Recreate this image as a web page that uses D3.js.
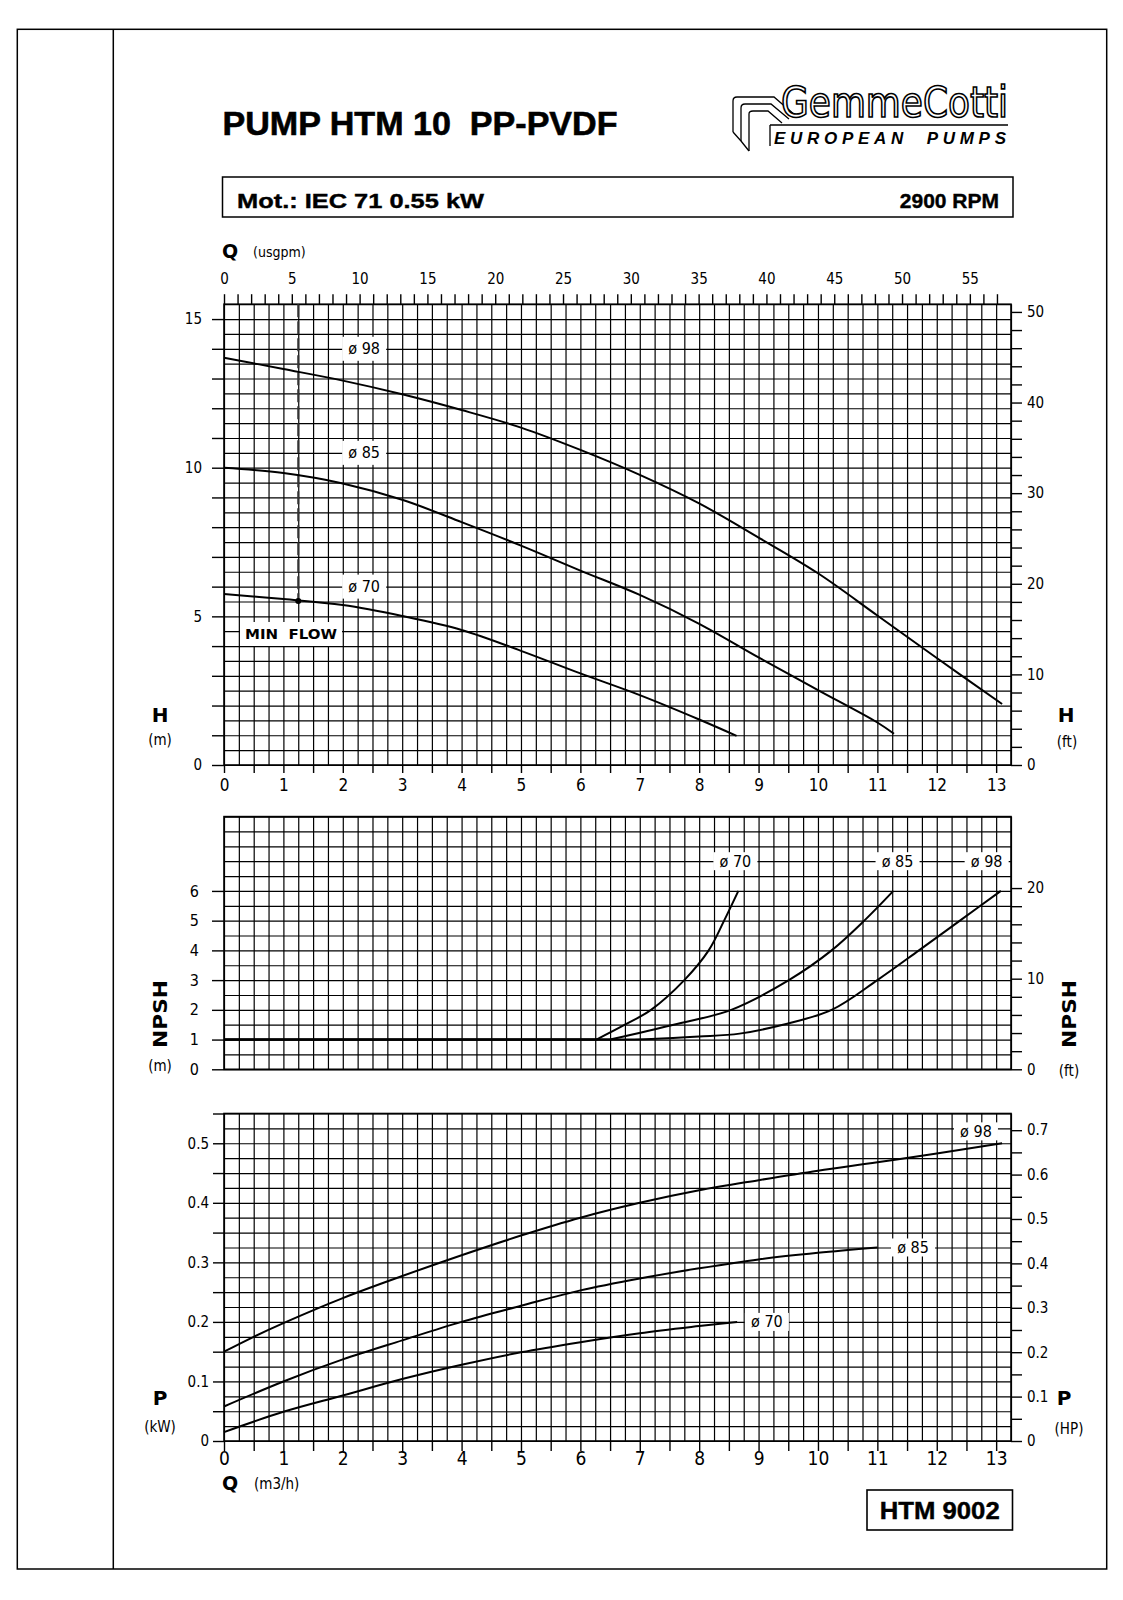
<!DOCTYPE html>
<html><head><meta charset="utf-8">
<script src="https://cdn.jsdelivr.net/npm/d3@7"></script>
<style>
body{margin:0;background:#fff}
svg text{fill:#000;white-space:pre}
.num{font-family:"Liberation Sans Narrow","Arial Narrow","DejaVu Sans Condensed",sans-serif}
.blk{font-family:"DejaVu Sans",sans-serif;font-weight:bold}
.bold{font-family:"Liberation Sans",Arial,sans-serif;font-weight:bold}
</style>
</head><body>
<svg id="c" width="1123" height="1600" xmlns="http://www.w3.org/2000/svg"></svg>
<script>
// ---------------- DATA ----------------
const flowTicks = d3.range(0, 14, 1);            // m3/h labels 0..13
const usgpmTicks = d3.range(0, 58, 1);           // usgpm ticks, labels every 5
const headTicksM = d3.range(0, 16, 1);           // H (m)
const headTicksFt = d3.range(0, 51, 2);          // H (ft)
const npshTicksM = d3.range(0, 7, 1);            // NPSH (m)
const npshTicksFt = d3.range(0, 21, 2);          // NPSH (ft)
const powerTicksKW = d3.range(0, 0.5501, 0.05);  // P (kW)
const powerTicksHP = d3.range(0, 0.7001, 0.05);  // P (HP)
const impellers = ["ø 98", "ø 85", "ø 70"];

// Head curves H (m) vs Q (m3/h)
const headQ98 = [0, 1, 2, 3, 4, 5, 6, 7, 8, 9, 10, 11, 12, 13.1];
const headH98 = [13.7, 13.32, 12.93, 12.47, 11.94, 11.35, 10.6, 9.76, 8.8, 7.65, 6.45, 5.03, 3.6, 2.05];
const headQ85 = [0, 1, 2, 3, 4, 5, 6, 7, 8, 9, 10, 11, 11.28];
const headH85 = [10.0, 9.82, 9.47, 8.92, 8.17, 7.38, 6.54, 5.72, 4.75, 3.62, 2.52, 1.43, 1.05];
const headQ70 = [0, 1, 2, 3, 4, 5, 6, 7, 8, 8.63];
const headH70 = [5.75, 5.58, 5.38, 5.01, 4.54, 3.84, 3.08, 2.35, 1.53, 0.98];
const minFlowQ = 1.25, minFlowH = 5.52;

// NPSH curves (m) vs Q
const npshQ70 = [0, 6.27, 6.75, 7.19, 7.75, 8.16, 8.42, 8.66];
const npshN70 = [1, 1, 1.5, 2, 3, 4, 5, 6];
const npshQ85 = [0, 6.5, 7.57, 8.54, 9.51, 10.23, 10.78, 11.27];
const npshN85 = [1, 1, 1.5, 2, 3, 4, 5, 6];
const npshQ98 = [0, 6.5, 7.2, 8.0, 8.68, 9.41, 10.23, 11.0, 11.7, 12.39, 13.08];
const npshN98 = [1, 1, 1.02, 1.1, 1.2, 1.5, 2, 3, 4, 5, 6];

// Power curves P (kW) vs Q
const powQ98 = [0, 0.5, 1, 2, 3, 4, 5, 6, 7, 8, 9, 10, 11, 12, 13.1];
const powP98 = [0.15, 0.175, 0.198, 0.24, 0.277, 0.312, 0.345, 0.375, 0.40, 0.421, 0.438, 0.454, 0.468, 0.483, 0.50];
const powQ85 = [0, 1, 2, 3, 4, 5, 6, 7, 8, 9, 10, 11];
const powP85 = [0.058, 0.1, 0.137, 0.169, 0.2, 0.227, 0.253, 0.273, 0.29, 0.305, 0.316, 0.325];
const powQ70 = [0, 1, 2, 3, 4, 5, 6, 7, 8, 8.64];
const powP70 = [0.015, 0.049, 0.0765, 0.104, 0.128, 0.149, 0.166, 0.181, 0.193, 0.2];

// label anchors (data space)
const headLabelQ = [2.36, 2.36, 2.36], headLabelH = [14, 10.5, 6];
const npshLabelQ = [8.61, 11.34, 12.84], npshLabelN = [7, 7, 7];
const powLabelQ = [12.66, 11.6, 9.14], powLabelP = [0.52, 0.325, 0.2];

// ---------------- SCALES ----------------
const svg = d3.select("#c");
const X0 = 224, X1 = 1011;
const QMAX = 13.25;
const x = d3.scaleLinear().domain([0, QMAX]).range([X0, X1]);
const xU = d3.scaleLinear().domain([0, QMAX * 4.38]).range([X0, X1]);
const yH = d3.scaleLinear().domain([0, 15.5]).range([765, 304.2]);
const yHft = d3.scaleLinear().domain([0, 15.5 / 0.3048]).range([765, 304.2]);
const yN = d3.scaleLinear().domain([0, 8.5]).range([1069.3, 816.6]);
const yNft = d3.scaleLinear().domain([0, 8.5 / 0.3048]).range([1069.3, 816.6]);
const yP = d3.scaleLinear().domain([0, 0.55]).range([1441, 1113.5]);
const yPhp = d3.scaleLinear().domain([0, 0.55 / 0.7457]).range([1441, 1113.5]);

// ---------------- PAGE ----------------
svg.append("rect").attr("x", 17.3).attr("y", 29.3).attr("width", 1106.7 - 17.3).attr("height", 1569 - 29.3)
  .attr("fill", "none").attr("stroke", "#000").attr("stroke-width", 1.5);
svg.append("line").attr("x1", 113.3).attr("x2", 113.3).attr("y1", 29.3).attr("y2", 1569)
  .attr("stroke", "#000").attr("stroke-width", 1.5);

// Title
svg.append("text").attr("class", "bold").attr("x", 222.5).attr("y", 135).attr("font-size", 33)
  .attr("stroke", "#000").attr("stroke-width", 0.6)
  .attr("textLength", 395).attr("lengthAdjust", "spacingAndGlyphs").text("PUMP HTM 10  PP-PVDF");

// Logo
const logo = svg.append("g").attr("fill", "none").attr("stroke", "#000").attr("stroke-width", 1.3);
logo.append("path").attr("d", "M733,132 L733,101 Q733,97 737,97 L774,97 L796,116");
logo.append("path").attr("d", "M741,141 L741,108 Q741,104 745,104 L771,104 L789,119");
logo.append("path").attr("d", "M749,151 L749,114 Q749,111 753,111 L768,111 L782,123");
logo.append("path").attr("d", "M733,132 L741,141 M741,141 L749,151");
logo.append("path").attr("d", "M770,125 L1008,125 M770,125 L770,146");
svg.append("text").attr("x", 781).attr("y", 117).attr("font-size", 42)
  .attr("font-family", "'Liberation Sans Narrow','DejaVu Sans Condensed',sans-serif")
  .style("fill", "#fff").attr("stroke", "#000").attr("stroke-width", 1.6)
  .attr("textLength", 227).attr("lengthAdjust", "spacingAndGlyphs").text("GemmeCotti");
svg.append("text").attr("class", "bold").attr("x", 774).attr("y", 143.5).attr("font-size", 17)
  .attr("font-style", "italic").attr("textLength", 232).attr("lengthAdjust", "spacing")
  .text("EUROPEAN  PUMPS");

// Motor box
svg.append("rect").attr("x", 222.5).attr("y", 177).attr("width", 1013 - 222.5).attr("height", 40)
  .attr("fill", "none").attr("stroke", "#000").attr("stroke-width", 1.5);
svg.append("text").attr("class", "bold").attr("x", 237).attr("y", 208).attr("font-size", 21)
  .attr("stroke", "#000").attr("stroke-width", 0.4)
  .attr("textLength", 247).attr("lengthAdjust", "spacingAndGlyphs").text("Mot.: IEC 71 0.55 kW");
svg.append("text").attr("class", "bold").attr("x", 999).attr("y", 208).attr("font-size", 21)
  .attr("stroke", "#000").attr("stroke-width", 0.4)
  .attr("text-anchor", "end").text("2900 RPM");

// ---------------- HELPERS ----------------
function gridPanel(yS, yMax, yStep) {
  const xs = d3.range(0, QMAX + 1e-6, 0.25);
  const ys = d3.range(0, yMax + 1e-6, yStep);
  const top = yS(yMax), bot = yS(0);
  svg.append("g").attr("transform", `translate(0,${bot})`)
    .call(d3.axisBottom(x).tickValues(xs).tickSize(-(bot - top)).tickFormat(""))
    .call(a => a.select(".domain").remove())
    .call(a => a.selectAll("line").attr("stroke", "#000").attr("stroke-width", 1.2));
  svg.append("g").attr("transform", `translate(${X0},0)`)
    .call(d3.axisLeft(yS).tickValues(ys).tickSize(-(X1 - X0)).tickFormat(""))
    .call(a => a.select(".domain").remove())
    .call(a => a.selectAll("line").attr("stroke", "#000").attr("stroke-width", 1.2));
  svg.append("rect").attr("x", X0).attr("y", top).attr("width", X1 - X0).attr("height", bot - top)
    .attr("fill", "none").attr("stroke", "#000").attr("stroke-width", 1.6);
}
function styleAxis(a, fs) {
  a.select(".domain").remove();
  a.selectAll("line").attr("stroke", "#000").attr("stroke-width", 1.4);
  a.selectAll("text").attr("class", "num").attr("font-size", fs).style("fill", "#000");
}
function curve(qs, vs, yS) {
  const pts = qs.map((q, i) => [q, vs[i]]);
  // leading flat run (constant value) drawn straight, rest smooth
  let k = 0;
  while (k + 1 < pts.length && pts[k + 1][1] === pts[0][1]) k++;
  const lin = d3.line().x(d => x(d[0])).y(d => yS(d[1]));
  const smooth = d3.line().x(d => x(d[0])).y(d => yS(d[1])).curve(d3.curveCatmullRom.alpha(0.5));
  if (k > 0) {
    svg.append("path").datum(pts.slice(0, k + 1)).attr("d", lin)
      .attr("fill", "none").attr("stroke", "#000").attr("stroke-width", 2);
  }
  svg.append("path").datum(pts.slice(k)).attr("d", smooth)
    .attr("fill", "none").attr("stroke", "#000").attr("stroke-width", 2);
}
function tag(cx, cy, txt, w, h) {
  svg.append("rect").attr("x", cx - w / 2).attr("y", cy - h / 2).attr("width", w).attr("height", h).attr("fill", "#fff");
  svg.append("text").attr("class", "num").attr("x", cx).attr("y", cy + 5.5).attr("font-size", 16)
    .attr("text-anchor", "middle").text(txt);
}

// ---------------- HEAD PANEL ----------------
gridPanel(yH, 15.5, 0.5);
svg.append("g").attr("transform", `translate(0,304.2)`)
  .call(d3.axisTop(xU).tickValues(usgpmTicks).tickSize(10).tickPadding(10).tickFormat(d => d % 5 === 0 ? d : ""))
  .call(a => styleAxis(a, 15));
svg.append("g").attr("transform", `translate(0,765)`)
  .call(d3.axisBottom(x).tickValues(d3.range(0, 13.01, 0.5)).tickSize(8).tickFormat(d => Number.isInteger(d) ? d : ""))
  .call(a => styleAxis(a, 17))
  .call(a => a.selectAll("text").attr("y", 26).attr("dy", null));
svg.append("g").attr("transform", `translate(${X0},0)`)
  .call(d3.axisLeft(yH).tickValues(headTicksM).tickSize(12).tickPadding(10).tickFormat(d => d % 5 === 0 ? d : ""))
  .call(a => styleAxis(a, 15));
svg.append("g").attr("transform", `translate(${X1},0)`)
  .call(d3.axisRight(yHft).tickValues(headTicksFt).tickSize(11).tickPadding(5).tickFormat(d => d % 10 === 0 ? d : ""))
  .call(a => styleAxis(a, 15));

// min flow
svg.append("line").attr("x1", x(minFlowQ)).attr("x2", x(minFlowQ)).attr("y1", yH(15.5)).attr("y2", yH(minFlowH))
  .attr("stroke", "#333").attr("stroke-width", 2).attr("stroke-dasharray", "13,4");
curve(headQ98, headH98, yH);
curve(headQ85, headH85, yH);
curve(headQ70, headH70, yH);
svg.append("circle").attr("cx", x(minFlowQ)).attr("cy", yH(minFlowH)).attr("r", 3).attr("fill", "#000");
impellers.forEach((t, i) => tag(x(headLabelQ[i]), yH(headLabelH[i]), t, 44, 24));
svg.append("rect").attr("x", 240).attr("y", 622).attr("width", 102).attr("height", 24).attr("fill", "#fff");
svg.append("text").attr("class", "blk").attr("x", 291).attr("y", 639).attr("font-size", 14)
  .attr("text-anchor", "middle").attr("textLength", 92).attr("lengthAdjust", "spacingAndGlyphs").text("MIN  FLOW");

// axis titles head
svg.append("text").attr("class", "blk").attr("x", 222).attr("y", 258).attr("font-size", 19).text("Q");
svg.append("text").attr("class", "num").attr("x", 253).attr("y", 257).attr("font-size", 14).text("(usgpm)");
svg.append("text").attr("class", "blk").attr("x", 160).attr("y", 722).attr("font-size", 20).attr("text-anchor", "middle").text("H");
svg.append("text").attr("class", "num").attr("x", 160).attr("y", 745).attr("font-size", 15).attr("text-anchor", "middle").text("(m)");
svg.append("text").attr("class", "blk").attr("x", 1066).attr("y", 722).attr("font-size", 20).attr("text-anchor", "middle").text("H");
svg.append("text").attr("class", "num").attr("x", 1067).attr("y", 747).attr("font-size", 15).attr("text-anchor", "middle").text("(ft)");

// ---------------- NPSH PANEL ----------------
gridPanel(yN, 8.5, 0.5);
svg.append("g").attr("transform", `translate(${X0},0)`)
  .call(d3.axisLeft(yN).tickValues(npshTicksM).tickSize(12).tickPadding(13).tickFormat(d => d))
  .call(a => styleAxis(a, 16));
svg.append("g").attr("transform", `translate(${X1},0)`)
  .call(d3.axisRight(yNft).tickValues(npshTicksFt).tickSize(11).tickPadding(5).tickFormat(d => d % 10 === 0 ? d : ""))
  .call(a => styleAxis(a, 15));
curve(npshQ98, npshN98, yN);
curve(npshQ85, npshN85, yN);
curve(npshQ70, npshN70, yN);
[2, 1, 0].forEach((k, j) => tag(x(npshLabelQ[j]), yN(npshLabelN[j]), impellers[k], 44, 18));
svg.append("text").attr("class", "blk").attr("transform", "translate(167,1014) rotate(-90)")
  .attr("font-size", 20).attr("text-anchor", "middle").attr("textLength", 68).attr("lengthAdjust", "spacingAndGlyphs").text("NPSH");
svg.append("text").attr("class", "num").attr("x", 160).attr("y", 1071).attr("font-size", 15).attr("text-anchor", "middle").text("(m)");
svg.append("text").attr("class", "blk").attr("transform", "translate(1076,1014) rotate(-90)")
  .attr("font-size", 20).attr("text-anchor", "middle").attr("textLength", 68).attr("lengthAdjust", "spacingAndGlyphs").text("NPSH");
svg.append("text").attr("class", "num").attr("x", 1069).attr("y", 1076).attr("font-size", 15).attr("text-anchor", "middle").text("(ft)");

// ---------------- POWER PANEL ----------------
gridPanel(yP, 0.55, 0.025);
svg.append("g").attr("transform", `translate(${X0},0)`)
  .call(d3.axisLeft(yP).tickValues(powerTicksKW).tickSize(11).tickPadding(4)
    .tickFormat(d => Math.round(d * 100) % 10 === 0 ? d3.format(".1~f")(d) : ""))
  .call(a => styleAxis(a, 15));
svg.append("g").attr("transform", `translate(${X1},0)`)
  .call(d3.axisRight(yPhp).tickValues(powerTicksHP).tickSize(11).tickPadding(5)
    .tickFormat(d => Math.round(d * 100) % 10 === 0 ? d3.format(".1~f")(d) : ""))
  .call(a => styleAxis(a, 15));
svg.append("g").attr("transform", `translate(0,1441)`)
  .call(d3.axisBottom(x).tickValues(d3.range(0, 13.01, 0.5)).tickSize(10).tickFormat(d => Number.isInteger(d) ? d : ""))
  .call(a => styleAxis(a, 19))
  .call(a => a.selectAll("text").attr("y", 24).attr("dy", null));
curve(powQ98, powP98, yP);
curve(powQ85, powP85, yP);
curve(powQ70, powP70, yP);
impellers.forEach((t, i) => tag(x(powLabelQ[i]), yP(powLabelP[i]), t, 44, 18));
svg.append("text").attr("class", "blk").attr("x", 160).attr("y", 1405).attr("font-size", 20).attr("text-anchor", "middle").text("P");
svg.append("text").attr("class", "num").attr("x", 160).attr("y", 1432).attr("font-size", 15).attr("text-anchor", "middle").text("(kW)");
svg.append("text").attr("class", "blk").attr("x", 1064).attr("y", 1405).attr("font-size", 20).attr("text-anchor", "middle").text("P");
svg.append("text").attr("class", "num").attr("x", 1069).attr("y", 1434).attr("font-size", 15).attr("text-anchor", "middle").text("(HP)");
svg.append("text").attr("class", "blk").attr("x", 222).attr("y", 1490).attr("font-size", 19).text("Q");
svg.append("text").attr("class", "num").attr("x", 254).attr("y", 1489).attr("font-size", 15).text("(m3/h)");

// code box
svg.append("rect").attr("x", 867).attr("y", 1490).attr("width", 1012.5 - 867).attr("height", 40)
  .attr("fill", "none").attr("stroke", "#000").attr("stroke-width", 1.6);
svg.append("text").attr("class", "bold").attr("x", 939.7).attr("y", 1518.5).attr("font-size", 23)
  .attr("stroke", "#000").attr("stroke-width", 0.4)
  .attr("text-anchor", "middle").attr("textLength", 120).attr("lengthAdjust", "spacingAndGlyphs").text("HTM 9002");
</script>
</body></html>
